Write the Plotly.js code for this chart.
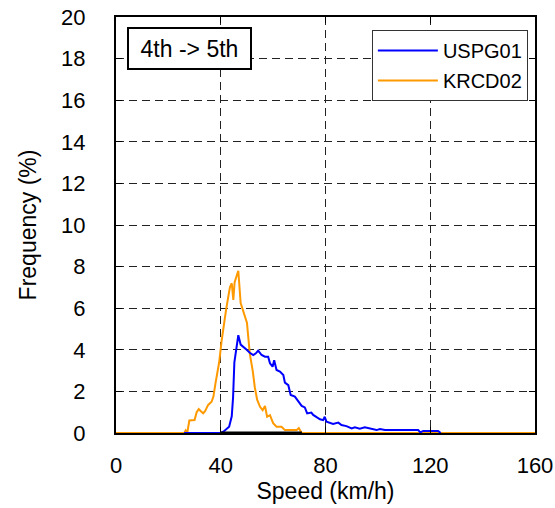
<!DOCTYPE html>
<html>
<head>
<meta charset="utf-8">
<script src="https://cdn.plot.ly/plotly-3.0.1.min.js"></script>
<style>
  html, body { margin: 0; padding: 0; background: #fff; }
  #chart { width: 555px; height: 508px; }
</style>
</head>
<body>
<div id="chart"></div>
<script>
// Speed distribution for the 4th -> 5th gear shift
const krcdSpeed = [0, 26, 26.6, 27.2, 28, 29, 30, 30.8, 31.6, 32.4, 33.3, 34, 35.2, 36.5, 37.2, 38, 38.6, 39.4, 40.3, 41, 42, 42.8, 43.5, 44.2, 44.8, 45.3, 46, 46.7, 47.6, 48.9, 50, 51.1, 52.2, 53, 53.9, 55, 56, 56.9, 57.7, 58.8, 60, 61.3, 63.2, 64.5, 69, 69.8, 70.9, 160];
const krcdFreq  = [0, 0, 0.12, 0, 0.6, 0.6, 0.62, 1.0, 1.15, 1.05, 0.95, 1.05, 1.35, 1.5, 1.75, 2.4, 2.9, 3.4, 4.4, 5.1, 5.9, 6.5, 7.0, 7.2, 6.4, 7.25, 7.5, 7.8, 6.25, 5.75, 5.3, 3.8, 3.0, 2.2, 1.6, 1.26, 1.1, 1.3, 0.78, 0.86, 0.47, 0.3, 0.3, 0.14, 0.14, 0.24, 0, 0];

const uspgSpeed = [26, 40, 41, 42, 43.2, 44.2, 44.7, 45.2, 45.8, 46.7, 47.6, 48.6, 49.9, 51.1, 52.4, 53.4, 54.3, 55.6, 56.9, 58.1, 58.8, 59.8, 60.4, 61.3, 62.6, 63.9, 64.5, 65.8, 66.7, 68.3, 69.6, 70.9, 72.1, 73, 74.6, 75.3, 76.6, 77.9, 79.1, 79.7, 80.4, 81.6, 82.9, 84.9, 86.1, 88, 90, 91.2, 93.1, 95, 96.9, 99.5, 100.8, 102.7, 115.4, 116.2, 117.3, 123, 124];
const uspgFreq  = [0, 0, 0.06, 0.15, 0.3, 0.8, 1.7, 3.4, 4.0, 4.7, 4.25, 4.12, 4.0, 3.86, 3.75, 3.83, 3.96, 3.75, 3.67, 3.67, 3.35, 3.19, 3.5, 3.03, 2.95, 2.79, 2.42, 2.3, 1.83, 1.75, 1.5, 1.3, 1.23, 0.94, 0.98, 0.87, 0.76, 0.66, 0.62, 0.78, 0.54, 0.5, 0.43, 0.5, 0.38, 0.33, 0.22, 0.27, 0.21, 0.27, 0.21, 0.14, 0.19, 0.14, 0.14, 0.03, 0.1, 0.1, 0];

const baseSpeed = [40, 71];
const baseFreq  = [0, 0];

const xTicks = [0, 40, 80, 120, 160];
const yTicks = [0, 2, 4, 6, 8, 10, 12, 14, 16, 18, 20];

const font = 'Liberation Sans, Arial, sans-serif';

const traces = [
  {
    name: 'KRCD02', x: krcdSpeed, y: krcdFreq, type: 'scatter', mode: 'lines',
    line: { color: '#ff9900', width: 2 }, legendrank: 2, legendgroup: 'b'
  },
  {
    name: 'USPG01', x: uspgSpeed, y: uspgFreq, type: 'scatter', mode: 'lines',
    line: { color: '#0000ff', width: 2 }, legendrank: 1, legendgroup: 'a'
  },
  {
    name: 'base', x: baseSpeed, y: baseFreq, type: 'scatter', mode: 'lines',
    line: { color: '#000000', width: 3 }, showlegend: false
  }
];

const axisCommon = {
  showline: true, linecolor: '#000', linewidth: 2, mirror: 'ticks',
  ticks: 'inside', ticklen: 6, tickwidth: 1, tickcolor: '#000',
  showgrid: true, gridcolor: '#222', gridwidth: 1, griddash: '8px,5px',
  zeroline: false, tickfont: { family: font, size: 22, color: '#000' }
};

const layout = {
  width: 555, height: 508,
  margin: { l: 116, r: 20, t: 17, b: 75 },
  paper_bgcolor: '#fff', plot_bgcolor: '#fff',
  font: { family: font, size: 22, color: '#000' },
  xaxis: Object.assign({}, axisCommon, {
    range: [0, 160], tickvals: xTicks, ticktext: xTicks.map(String),
    ticklabelstandoff: 12,
    title: { text: 'Speed (km/h)', font: { family: font, size: 23 }, standoff: 4 }
  }),
  yaxis: Object.assign({}, axisCommon, {
    range: [0, 20], tickvals: yTicks, ticktext: yTicks.map(String),
    ticklabelstandoff: 24,
    title: { text: 'Frequency (%)', font: { family: font, size: 23 }, standoff: 18 }
  }),
  legend: {
    x: 0.983, xanchor: 'right', y: 0.969, yanchor: 'top',
    bgcolor: '#fff', bordercolor: '#333', borderwidth: 1,
    font: { family: font, size: 20, color: '#000' },
    traceorder: 'grouped', tracegroupgap: 1, itemwidth: 60
  },
  annotations: [{
    xref: 'paper', yref: 'paper', x: 0.1754, y: 0.924,
    xanchor: 'center', yanchor: 'middle', showarrow: false,
    text: '4th -> 5th', font: { family: font, size: 23, color: '#000' },
    bgcolor: '#fff', bordercolor: '#000', borderwidth: 2, borderpad: 2,
    width: 117, height: 35
  }]
};

Plotly.newPlot('chart', traces, layout, { displayModeBar: false, staticPlot: true });
</script>
</body>
</html>
